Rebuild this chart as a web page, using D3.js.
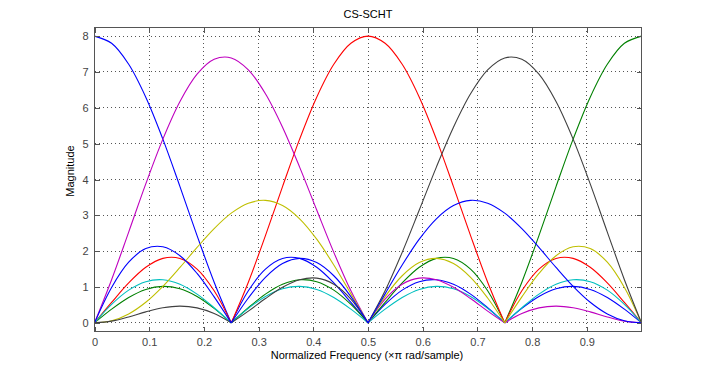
<!DOCTYPE html>
<html>
<head>
<meta charset="utf-8">
<script src="https://cdn.jsdelivr.net/npm/d3@7"></script>
<style>
  html, body { margin: 0; padding: 0; background: #fff; }
  svg { display: block; }
  text { font-family: "Liberation Sans", Arial, sans-serif; }
</style>
</head>
<body>
<svg id="chart" width="725" height="373"></svg>
<script>
// ---- data ----
const freq = [0, 0.03125, 0.0625, 0.09375, 0.125, 0.15625, 0.1875, 0.21875, 0.25,
  0.28125, 0.3125, 0.34375, 0.375, 0.40625, 0.4375, 0.46875, 0.5,
  0.53125, 0.5625, 0.59375, 0.625, 0.65625, 0.6875, 0.71875, 0.75,
  0.78125, 0.8125, 0.84375, 0.875, 0.90625, 0.9375, 0.96875, 1];

const blueDC = [8, 7.799, 7.2142, 6.2965, 5.1258, 3.8023, 2.4359, 1.1359, 0, 0.8950, 1.5000, 1.7971, 1.8000, 1.5509, 1.1146, 0.5698, 0, 0.5165, 0.9148, 1.1502, 1.2027, 1.0771, 0.8018, 0.4233, 0, 0.4064, 0.7389, 0.9524, 1.0196, 0.9340, 0.7105, 0.3831, 0];
const greenNyq = [0, 0.3831, 0.7105, 0.9340, 1.0196, 0.9524, 0.7389, 0.4064, 0, 0.4233, 0.8018, 1.0771, 1.2027, 1.1502, 0.9148, 0.5165, 0, 0.5698, 1.1146, 1.5509, 1.8000, 1.7971, 1.5000, 0.8950, 0, 1.1359, 2.4359, 3.8023, 5.1258, 6.2965, 7.2142, 7.7990, 8];
const redMid = [0, 0.5698, 1.1146, 1.5509, 1.8000, 1.7971, 1.5000, 0.8950, 0, 1.1359, 2.4359, 3.8023, 5.1258, 6.2965, 7.2142, 7.7990, 8, 7.7990, 7.2142, 6.2965, 5.1258, 3.8023, 2.4359, 1.1359, 0, 0.8950, 1.5000, 1.7971, 1.8000, 1.5509, 1.1146, 0.5698, 0];
const cyanLow = [0, 0.5165, 0.9148, 1.1502, 1.2027, 1.0771, 0.8018, 0.4233, 0, 0.4064, 0.7389, 0.9524, 1.0196, 0.9340, 0.7105, 0.3831, 0, 0.3831, 0.7105, 0.9340, 1.0196, 0.9524, 0.7389, 0.4064, 0, 0.4233, 0.8018, 1.0771, 1.2027, 1.1502, 0.9148, 0.5165, 0];
const magentaQ1 = [0, 1.2050, 2.5333, 3.8773, 5.1258, 6.1746, 6.9369, 7.3520, 7.3910, 7.0588, 6.3931, 5.4597, 4.3455, 3.1484, 1.9677, 0.8939, 0, 0.6649, 1.0790, 1.2481, 1.2027, 0.9927, 0.6797, 0.3288, 0, 0.2591, 0.4186, 0.4692, 0.4223, 0.3074, 0.1667, 0.0486, 0];
const yellowQ1 = [0, 0.0592, 0.2495, 0.5752, 1.0196, 1.5467, 2.1043, 2.6306, 3.0615, 3.3385, 3.4172, 3.2724, 2.9036, 2.3350, 1.6149, 0.8102, 0, 0.7336, 1.3148, 1.6829, 1.8000, 1.6562, 1.2717, 0.6952, 0, 0.7241, 1.3798, 1.8731, 2.1232, 2.0725, 1.6927, 0.9889, 0];
const blackQ3 = [0, 0.0486, 0.1667, 0.3074, 0.4223, 0.4692, 0.4186, 0.2591, 0, 0.3288, 0.6797, 0.9927, 1.2027, 1.2481, 1.0790, 0.6649, 0, 0.8939, 1.9677, 3.1484, 4.3455, 5.4597, 6.3931, 7.0588, 7.3910, 7.3520, 6.9369, 6.1746, 5.1258, 3.8773, 2.5333, 1.2050, 0];
const blueQ3 = [0, 0.9889, 1.6927, 2.0725, 2.1232, 1.8731, 1.3798, 0.7241, 0, 0.6952, 1.2717, 1.6562, 1.8000, 1.6829, 1.3148, 0.7336, 0, 0.8102, 1.6149, 2.3350, 2.9036, 3.2724, 3.4172, 3.3385, 3.0615, 2.6306, 2.1043, 1.5467, 1.0196, 0.5752, 0.2495, 0.0592, 0];

const seriesList = [blueDC, greenNyq, redMid, cyanLow, magentaQ1, yellowQ1, blackQ3, blueQ3];
const seriesColors = ["#0000ff", "#008000", "#ff0000", "#00bfbf", "#bf00bf", "#bfbf00", "#404040", "#0000ff"];

const xTicks = [0, 0.1, 0.2, 0.3, 0.4, 0.5, 0.6, 0.7, 0.8, 0.9];
const xTickLabels = ["0", "0.1", "0.2", "0.3", "0.4", "0.5", "0.6", "0.7", "0.8", "0.9"];
const yTicks = [0, 1, 2, 3, 4, 5, 6, 7, 8];
const yTickLabels = ["0", "1", "2", "3", "4", "5", "6", "7", "8"];

const titleText = "CS-SCHT";
const xLabelText = "Normalized Frequency (\u00d7\u03c0 rad/sample)";
const yLabelText = "Magnitude";

// ---- layout ----
const L = 94.5, R = 641.5, T = 27.5, B = 331.5;
const axisColor = "#555555";
const svg = d3.select("#chart");

const x = d3.scaleLinear().domain([0, 1]).range([L, R]);
const y = d3.scaleLinear().domain([-0.24, 8.24]).range([B, T]);

// grid
const grid = svg.append("g").attr("stroke", "#555").attr("stroke-width", 1)
  .attr("stroke-dasharray", "1,3").attr("shape-rendering", "crispEdges");
grid.selectAll("line.gx").data(xTicks).enter().append("line")
  .attr("x1", d => x(d)).attr("x2", d => x(d)).attr("y1", B).attr("y2", T);
grid.selectAll("line.gy").data(yTicks).enter().append("line")
  .attr("x1", L).attr("x2", R).attr("y1", d => y(d)).attr("y2", d => y(d));

// curves
const lineGen = d3.line().x(d => x(d[0])).y(d => y(d[1])).curve(d3.curveCatmullRom.alpha(0.5));
function segments(vals) {
  const segs = [];
  let cur = [];
  vals.forEach((v, i) => {
    cur.push([freq[i], v]);
    if (v === 0 && cur.length > 1) { segs.push(cur); cur = [[freq[i], v]]; }
  });
  if (cur.length > 1) segs.push(cur);
  return segs;
}
const curves = svg.append("g").attr("fill", "none").attr("stroke-width", 1.1);
seriesList.forEach((vals, k) => {
  segments(vals).forEach(seg => {
    curves.append("path").attr("d", lineGen(seg)).attr("stroke", seriesColors[k]);
  });
});

// axes
function styleAxis(g) {
  g.select(".domain").remove();
  g.selectAll(".tick line").attr("stroke", axisColor).attr("shape-rendering", "crispEdges");
  g.selectAll(".tick text").attr("fill", "#444").style("font-size", "11px")
    .style("font-family", '"Liberation Sans", Arial, sans-serif');
}
svg.append("g").attr("transform", `translate(0,${B})`)
  .call(d3.axisBottom(x).tickValues(xTicks).tickFormat((d, i) => xTickLabels[i])
    .tickSizeInner(-5).tickSizeOuter(0).tickPadding(7))
  .call(styleAxis);
svg.append("g").attr("transform", `translate(0,${T})`)
  .call(d3.axisTop(x).tickValues(xTicks).tickFormat(() => "").tickSizeInner(-5).tickSizeOuter(0))
  .call(styleAxis);
svg.append("g").attr("transform", `translate(${L},0)`)
  .call(d3.axisLeft(y).tickValues(yTicks).tickFormat((d, i) => yTickLabels[i])
    .tickSizeInner(-5).tickSizeOuter(0).tickPadding(6))
  .call(styleAxis);
svg.append("g").attr("transform", `translate(${R},0)`)
  .call(d3.axisRight(y).tickValues(yTicks).tickFormat(() => "").tickSizeInner(-5).tickSizeOuter(0))
  .call(styleAxis);

// box
svg.append("rect").attr("x", L).attr("y", T).attr("width", R - L).attr("height", B - T)
  .attr("fill", "none").attr("stroke", axisColor).attr("shape-rendering", "crispEdges");

// texts
svg.append("text").attr("x", (L + R) / 2).attr("y", 18).attr("text-anchor", "middle")
  .style("font-size", "11px").attr("fill", "#000").text(titleText);
svg.append("text").attr("x", (L + R) / 2 - 1).attr("y", 358.5).attr("text-anchor", "middle")
  .style("font-size", "11px").attr("fill", "#000").text(xLabelText);
svg.append("text").attr("transform", "translate(74,171) rotate(-90)").attr("text-anchor", "middle")
  .style("font-size", "11px").attr("fill", "#000").text(yLabelText);
</script>
</body>
</html>
